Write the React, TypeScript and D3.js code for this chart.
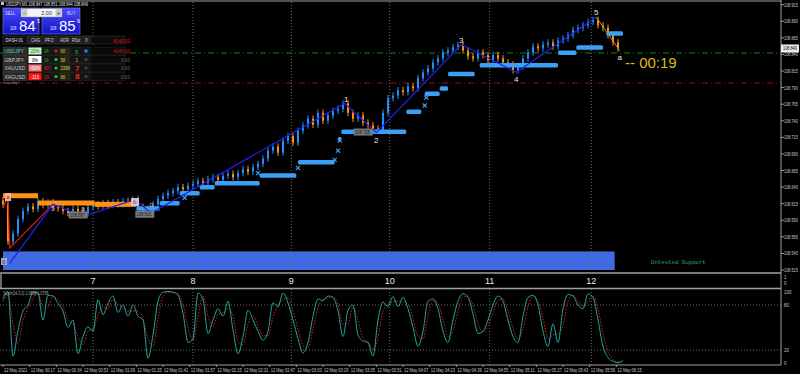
import React, { useEffect, useRef } from "react";
import * as d3 from "d3";

// M1 closes, one candle drawn per 3 bars
const firstOpen = 108.62;
const closes = [
  108.614, 108.558, 108.57, 108.592, 108.604, 108.611, 108.607, 108.619, 108.613, 108.617,
  108.611, 108.608, 108.604, 108.601, 108.607, 108.604, 108.601, 108.61, 108.614, 108.611,
  108.616, 108.613, 108.617, 108.614, 108.619, 108.616, 108.621, 108.61, 108.607, 108.605,
  108.614, 108.622, 108.627, 108.631, 108.634, 108.64, 108.637, 108.642, 108.645, 108.649,
  108.646, 108.652, 108.655, 108.651, 108.657, 108.66, 108.655, 108.661, 108.667, 108.663,
  108.67, 108.675, 108.683, 108.695, 108.701, 108.692, 108.71, 108.717, 108.707, 108.725,
  108.733, 108.743, 108.734, 108.752, 108.74, 108.748, 108.755, 108.758, 108.766, 108.752,
  108.743, 108.748, 108.737, 108.733, 108.728, 108.725, 108.752, 108.774, 108.778, 108.786,
  108.783, 108.792, 108.789, 108.804, 108.813, 108.819, 108.828, 108.834, 108.843, 108.846,
  108.851, 108.854, 108.846, 108.837, 108.834, 108.843, 108.839, 108.831, 108.839, 108.834,
  108.828, 108.825, 108.816, 108.822, 108.834, 108.843, 108.852, 108.849, 108.855, 108.858,
  108.852, 108.861, 108.864, 108.869, 108.877, 108.88, 108.884, 108.889, 108.892, 108.884,
  108.88, 108.869, 108.858, 108.849,
];

// stochastic %K and signal, one value per 3 bars
const stochK = [
  88, 98, 12, 46, 72, 80, 97, 96, 60, 93, 92, 82, 72, 50, 60, 15, 38, 51, 45, 87,
  67, 82, 92, 70, 80, 65, 80, 65, 60, 9, 40, 85, 97, 98, 97, 93, 69, 30, 35, 96,
  88, 42, 60, 75, 65, 85, 47, 15, 38, 73, 60, 45, 33, 45, 83, 78, 96, 83, 60, 35,
  16, 30, 65, 88, 86, 92, 90, 72, 38, 73, 80, 40, 32, 30, 12, 60, 84, 78, 91, 78,
  90, 75, 50, 25, 45, 85, 88, 75, 45, 30, 60, 85, 95, 90, 68, 42, 45, 60, 80, 92,
  85, 60, 38, 30, 65, 90, 93, 80, 45, 25, 55, 30, 75, 94, 92, 80, 75, 95, 90, 60,
  25, 10, 5, 3, 6,
];
const stochD = [
  85, 93, 55, 29, 59, 76, 88, 96, 78, 77, 92, 87, 77, 61, 55, 38, 27, 45, 48, 66,
  77, 75, 87, 81, 75, 72, 72, 72, 62, 35, 25, 62, 91, 97, 97, 95, 81, 50, 33, 65,
  92, 65, 51, 68, 70, 75, 66, 31, 27, 55, 66, 52, 39, 39, 64, 80, 87, 90, 72, 48,
  26, 23, 48, 76, 87, 89, 91, 81, 55, 55, 77, 60, 36, 31, 21, 36, 72, 81, 84, 85,
  84, 82, 62, 38, 35, 65, 86, 82, 60, 38, 45, 72, 90, 92, 79, 55, 44, 52, 70, 86,
  88, 72, 49, 34, 48, 78, 92, 86, 62, 35, 40, 42, 52, 85, 93, 86, 78, 85, 92, 75,
  42, 18, 8, 4, 5,
];

// [startBar, endBar, price]
const supportSteps = [
  [80, 94, 108.608], [94, 106, 108.616], [106, 118, 108.631], [118, 127, 108.64],
  [127, 154, 108.646], [154, 176, 108.658], [177, 199, 108.678], [201, 203, 108.713],
  [203, 242, 108.724], [242, 251, 108.754], [253, 262, 108.781], [262, 267, 108.789],
  [267, 283, 108.811], [286, 333, 108.824], [333, 344, 108.843], [344, 360, 108.851],
  [362, 372, 108.872],
];
const resistSteps = [[0, 21, 108.627], [21, 55, 108.616], [55, 80, 108.614]];
const crossMarks = [
  [109, 108.624], [153, 108.661], [177, 108.669], [199, 108.681], [201, 108.695],
  [202, 108.71], [253, 108.763], [254, 108.775],
];

// zigzag / wave points [bar, price]
const waveMain = [
  [4, 108.525], [30, 108.614], [48, 108.596], [79, 108.621], [89, 108.601],
  [205, 108.766], [224, 108.722], [275, 108.855], [308, 108.813], [356, 108.896],
];
const waveRed = [[0, 108.608], [3, 108.627], [4, 108.548], [30, 108.614]];
const waveTail = [[356, 108.896], [370, 108.846]];
const waveLabels = [
  ["1", 206, 108.772], ["2", 224, 108.71], ["3", 275, 108.862], ["4", 308, 108.802],
  ["5", 356, 108.904], ["a", 370, 108.836],
];
const smallLabels = [["5", 30, 108.607], ["a", 48, 108.607], ["c", 89, 108.613]];
const priceBoxes = [["108.597", 40, 108.598], ["108.601", 80, 108.599], ["108.728", 211, 108.723]];

const priceTicks = [
  108.915, 108.89, 108.865, 108.84, 108.815, 108.79, 108.765, 108.74, 108.715,
  108.69, 108.665, 108.64, 108.615, 108.59, 108.565, 108.54, 108.515,
];
const bidPrice = 108.849;
const stochTicks = [100, 80, 20, 0];
const dayLabels = ["7", "8", "9", "10", "11", "12"];
const dayBars = [54, 114, 173, 232, 292, 353];
const timeLabels = [
  "12 May 2021", "12 May 00:17", "12 May 00:34", "12 May 00:53", "12 May 01:09",
  "12 May 01:25", "12 May 01:41", "12 May 01:57", "12 May 02:15", "12 May 02:31",
  "12 May 02:47", "12 May 03:03", "12 May 03:19", "12 May 03:35", "12 May 03:51",
  "12 May 04:07", "12 May 04:23", "12 May 04:39", "12 May 04:55", "12 May 05:11",
  "12 May 05:27", "12 May 05:43", "12 May 05:59", "12 May 06:15",
];

// dashboard rows
const dashSymbols = ["USDJPY", "GBPJPY", "XAUUSD", "XAGUSD"];
const dashChg = ["23%", "9%", "-62%", "-110"];
const dashPfo = ["24", "14", "897", "29"];
const dashAdr = ["60", "58", "2389", "66"];
const dashRstr = ["5", "1", "7", "8"];
const dashValue = ["4140.00", "0.00", "0.00", "0.00"];

const App = () => {
  const ref = useRef<SVGSVGElement>(null);

  useEffect(() => {
    document.body.style.margin = "0";
    document.body.style.background = "#000";
    const svg = d3.select(ref.current);
    svg.selectAll("*").remove();

    const x = d3.scaleLinear().domain([0, 375]).range([3, 628]);
    const y = d3.scaleLinear().domain([108.515, 108.915]).range([270, 4.7]);
    const ys = d3.scaleLinear().domain([0, 100]).range([365, 290]);
    const font = "'Liberation Sans', Arial, sans-serif";
    const bull = "#1e8fff";
    const bear = "#ff9012";
    const band = "#3a9ff5";

    // normal text
    const txt = (tx: number, ty: number, t: string, size: number, col: string, anchor = "start", weight = "normal") =>
      svg.append("text").attr("x", tx).attr("y", ty).attr("fill", col).attr("text-anchor", anchor)
        .style("font-family", font).style("font-size", `${size}px`).style("font-weight", weight).text(t);
    // tiny condensed text (like the terminal's small font)
    const small = (tx: number, ty: number, t: string, size: number, col: string, sx = 0.72, anchor = "start") =>
      svg.append("text").attr("transform", `translate(${tx},${ty}) scale(${sx},1)`).attr("fill", col)
        .attr("text-anchor", anchor).style("font-family", font).style("font-size", `${size}px`).text(t);

    svg.append("rect").attr("width", 800).attr("height", 374).attr("fill", "#000");

    // untested support zone
    svg.append("rect").attr("x", x(0)).attr("width", x(367) - x(0))
      .attr("y", y(108.543)).attr("height", y(108.515) - y(108.543)).attr("fill", "#4169e1");
    svg.append("text").attr("x", 651).attr("y", 264).attr("fill", "#2ea860")
      .style("font-family", "'Liberation Mono', monospace").style("font-size", "5.7px")
      .text("Untested Support");

    // grid
    dayBars.forEach(b => {
      [[2, 272], [289, 365]].forEach(([a, c]) => {
        svg.append("line").attr("x1", x(b)).attr("x2", x(b)).attr("y1", a).attr("y2", c)
          .attr("stroke", "#6a6a6a").attr("stroke-dasharray", "1,2");
      });
    });
    [80, 20].forEach(v => {
      svg.append("line").attr("x1", 0).attr("x2", 781).attr("y1", ys(v)).attr("y2", ys(v))
        .attr("stroke", "#6a6a6a").attr("stroke-dasharray", "1,2");
    });

    // dash-dot levels
    svg.append("line").attr("x1", 0).attr("x2", 781).attr("y1", 53).attr("y2", 53)
      .attr("stroke", "#0a8a0a").attr("stroke-dasharray", "6,3,1,3");
    svg.append("line").attr("x1", 0).attr("x2", 781).attr("y1", 83).attr("y2", 83)
      .attr("stroke", "#9a0c0c").attr("stroke-dasharray", "6,3,1,3");

    // candles
    const cg = svg.append("g");
    closes.forEach((c, i) => {
      const o = i === 0 ? firstOpen : closes[i - 1];
      const cx = x(i * 3);
      const col = c >= o ? bull : bear;
      cg.append("line").attr("x1", cx).attr("x2", cx)
        .attr("y1", y(Math.max(o, c) + 0.005)).attr("y2", y(Math.min(o, c) - 0.005))
        .attr("stroke", col).attr("stroke-width", 1);
      cg.append("rect").attr("x", cx - 1).attr("width", 2)
        .attr("y", y(Math.max(o, c))).attr("height", Math.max(1, Math.abs(y(o) - y(c))))
        .attr("fill", col);
    });

    // resistance / support bands
    resistSteps.forEach(([s, e, p]) => {
      svg.append("rect").attr("x", x(s)).attr("width", x(e) - x(s))
        .attr("y", y(p) - 2.5).attr("height", 5).attr("fill", bear);
    });
    supportSteps.forEach(([s, e, p]) => {
      svg.append("rect").attr("x", x(s)).attr("width", x(e) - x(s))
        .attr("y", y(p) - 2).attr("height", 4.5).attr("rx", 1.5).attr("fill", band);
    });
    crossMarks.forEach(([b, p]) => {
      const cx = x(b), cy = y(p);
      svg.append("path").attr("d", `M${cx - 2},${cy - 2}L${cx + 2},${cy + 2}M${cx - 2},${cy + 2}L${cx + 2},${cy - 2}`)
        .attr("stroke", band).attr("stroke-width", 1.2);
    });

    // zigzags
    const line = d3.line<number[]>().x(d => x(d[0])).y(d => y(d[1]));
    svg.append("path").attr("d", line(waveRed)).attr("fill", "none").attr("stroke", "#e01818").attr("stroke-width", 1.2);
    svg.append("path").attr("d", line(waveMain)).attr("fill", "none").attr("stroke", "#2020f0").attr("stroke-width", 1.2);
    svg.append("path").attr("d", line(waveTail)).attr("fill", "none").attr("stroke", "#a89430").attr("stroke-width", 1);

    waveLabels.forEach(([t, b, p]) => {
      svg.append("text").attr("x", x(b as number)).attr("y", y(p as number)).attr("text-anchor", "middle")
        .attr("dy", "0.35em").attr("fill", "#e6e6e6").style("font-family", font).style("font-size", "8px").text(t as string);
    });
    smallLabels.forEach(([t, b, p]) => {
      svg.append("text").attr("x", x(b as number)).attr("y", y(p as number)).attr("text-anchor", "middle")
        .attr("dy", "0.35em").attr("fill", "#e0a8c8").style("font-family", font).style("font-size", "7px").text(t as string);
    });
    svg.append("rect").attr("x", 1).attr("y", 258).attr("width", 6).attr("height", 7).attr("fill", "#9aa8d8");
    txt(4, 263.5, "0", 5, "#222", "middle");
    svg.append("rect").attr("x", 5).attr("y", 193).attr("width", 6).attr("height", 8).attr("fill", "#f0b0a0");
    txt(8, 199, "a", 6, "#c02020", "middle");
    svg.append("rect").attr("x", 131).attr("y", 198).attr("width", 8).attr("height", 8).attr("fill", "#cfc0d8");
    txt(135, 204, "b", 6, "#8a3060", "middle");
    priceBoxes.forEach(([t, b, p]) => {
      const bx = x(b as number), by = y(p as number);
      svg.append("rect").attr("x", bx - 1).attr("y", by - 3.5).attr("width", 19).attr("height", 7).attr("fill", "#7a7a7a");
      small(bx, by + 2, t as string, 5, "#1a1a1a", 0.85);
    });

    // countdown
    txt(625, 68, "--  00:19", 15, "#dcbc10");

    // frames
    svg.append("line").attr("x1", 0).attr("x2", 781).attr("y1", 1).attr("y2", 1).attr("stroke", "#505050").attr("stroke-width", 2);
    svg.append("line").attr("x1", 0).attr("x2", 781).attr("y1", 273).attr("y2", 273).attr("stroke", "#a0a0a0").attr("stroke-width", 1.5);
    svg.append("line").attr("x1", 0).attr("x2", 781).attr("y1", 288.5).attr("y2", 288.5).attr("stroke", "#a0a0a0").attr("stroke-width", 1.5);
    svg.append("line").attr("x1", 0).attr("x2", 781).attr("y1", 365).attr("y2", 365).attr("stroke", "#a0a0a0");
    svg.append("line").attr("x1", 781).attr("x2", 781).attr("y1", 0).attr("y2", 365).attr("stroke", "#a0a0a0");
    svg.append("line").attr("x1", 1).attr("x2", 1).attr("y1", 274).attr("y2", 288).attr("stroke", "#cfcfcf");

    dayLabels.forEach((t, i) => txt(x(dayBars[i]), 284, t, 9, "#e8e8e8", "middle"));

    // stochastic
    const sline = d3.line<number>().x((d, i) => x(i * 3)).y(d => ys(d)).curve(d3.curveMonotoneX);
    svg.append("path").attr("d", sline(stochD)).attr("fill", "none").attr("stroke", "#d42020")
      .attr("stroke-width", 1).attr("stroke-dasharray", "1.5,1.5");
    svg.append("path").attr("d", sline(stochK)).attr("fill", "none").attr("stroke", "#1fa8a0").attr("stroke-width", 1);
    small(3, 295, "Stoch(14,3,3) 1.0838 1.0795", 5, "#b0b0b0", 0.72);

    // right axis
    priceTicks.forEach(p => {
      svg.append("line").attr("x1", 781).attr("x2", 784).attr("y1", y(p)).attr("y2", y(p)).attr("stroke", "#a0a0a0");
      if (Math.abs(y(p) - y(bidPrice)) > 5) small(784, y(p) + 2, p.toFixed(3), 5.5, "#c8c8c8", 0.7);
    });
    stochTicks.forEach(v => small(784, Math.min(Math.max(ys(v), 292), 363) + 2, String(v), 5.5, "#c8c8c8", 0.8));
    small(784, 279, "1", 5.5, "#c8c8c8", 0.8);
    small(784, 285, "0", 5.5, "#c8c8c8", 0.8);
    svg.append("rect").attr("x", 781).attr("y", y(bidPrice) - 4).attr("width", 18).attr("height", 8).attr("fill", "#ececec");
    small(783, y(bidPrice) + 2, bidPrice.toFixed(3), 5.5, "#000", 0.7);

    // time axis
    timeLabels.forEach((t, i) => {
      const tx = x(i * 16);
      svg.append("line").attr("x1", tx).attr("x2", tx).attr("y1", 365).attr("y2", 367).attr("stroke", "#a0a0a0");
      small(tx + 1, 371.5, t, 5.6, "#c8c8c8", 0.72);
    });

    // title
    svg.append("rect").attr("x", 1).attr("y", 2).attr("width", 3).attr("height", 3).attr("fill", "#bbb");
    small(6, 6, "USDJPY,M1  108.847 108.851 108.844 108.849", 5, "#e0e0e0", 0.78);

    // trade panel
    const defs = svg.append("defs");
    const grad = defs.append("linearGradient").attr("id", "btn").attr("x1", 0).attr("x2", 0).attr("y1", 0).attr("y2", 1);
    grad.append("stop").attr("offset", "0%").attr("stop-color", "#4a4aff");
    grad.append("stop").attr("offset", "100%").attr("stop-color", "#1212c8");
    [[3, 39], [42, 80]].forEach(([a, b]) => {
      svg.append("rect").attr("x", a).attr("y", 8).attr("width", b - a).attr("height", 26)
        .attr("fill", "url(#btn)").attr("stroke", "#7a7aff").attr("stroke-width", 0.6);
    });
    svg.append("rect").attr("x", 21).attr("y", 8.5).attr("width", 41).attr("height", 8.5).attr("fill", "#f4f4f4").attr("stroke", "#888").attr("stroke-width", 0.5);
    svg.append("rect").attr("x", 21.5).attr("y", 9).attr("width", 6).attr("height", 7.5).attr("fill", "#c8c8c8");
    svg.append("rect").attr("x", 55.5).attr("y", 9).attr("width", 6).attr("height", 7.5).attr("fill", "#c8c8c8");
    txt(24.5, 14.5, "-", 6, "#333", "middle");
    txt(58.5, 14.5, "+", 6, "#333", "middle");
    txt(52, 14.8, "2.00", 5.5, "#333", "end");
    small(5, 15, "SELL", 5, "#d8d8ff", 0.85);
    small(67, 15, "BUY", 5, "#d8d8ff", 0.85);
    small(10, 30, "108", 4.5, "#e8e8ff", 0.85);
    txt(19, 31, "84", 15, "#ffffff");
    txt(37, 23, "5", 5, "#ffffff");
    small(50, 30, "108", 4.5, "#e8e8ff", 0.85);
    txt(59, 31, "85", 15, "#ffffff");
    txt(77, 23, "9", 5, "#ffffff");

    // dashboard
    svg.append("rect").attr("x", 3).attr("y", 36).attr("width", 24).attr("height", 8).attr("fill", "#0c0c0c").attr("stroke", "#444").attr("stroke-width", 0.6);
    svg.append("rect").attr("x", 28).attr("y", 36).attr("width", 62).attr("height", 8).attr("fill", "#202020").attr("stroke", "#444").attr("stroke-width", 0.6);
    svg.append("rect").attr("x", 91).attr("y", 36).attr("width", 34).attr("height", 8).attr("fill", "#0c0c0c").attr("stroke", "#333").attr("stroke-width", 0.6);
    small(5.5, 42, "DASH 01", 5, "#e0e0e0", 0.85);
    [["CHG", 31], ["PFO", 45], ["ADR", 60], ["RStr", 72], ["X", 85]].forEach(([t, tx]) => small(tx as number, 42, t as string, 5, "#d0d0d0", 0.85));
    small(130, 42.5, "4140.00", 5.5, "#e01010", 0.85, "end");
    const chgBg = ["#bfeebf", "#ffffff", "#f07878", "#ff1010"];
    const chgFg = ["#1e6e1e", "#000000", "#ffffff", "#ffffff"];
    const pfoCol = ["#22c022", "#22c022", "#e02020", "#e02020"];
    const dotCol = ["#e02020", "#22d022", "#22d022", "#22d022"];
    const rstrCol = ["#22c022", "#e08020", "#ff2020", "#ff2020"];
    const dot2Col = ["#2080ff", "#3a3a3a", "#3a3a3a", "#3a3a3a"];
    const valCol = ["#e01010", "#6a6a6a", "#6a6a6a", "#6a6a6a"];
    dashSymbols.forEach((s, i) => {
      const ry = 47 + i * 8.5;
      svg.append("rect").attr("x", 3).attr("y", ry).attr("width", 24).attr("height", 8).attr("fill", "#2a2a2a").attr("stroke", "#444").attr("stroke-width", 0.5);
      svg.append("rect").attr("x", 28).attr("y", ry).attr("width", 62).attr("height", 8).attr("fill", "#141414").attr("stroke", "#333").attr("stroke-width", 0.5);
      svg.append("rect").attr("x", 91).attr("y", ry).attr("width", 34).attr("height", 8).attr("fill", "#0a0a0a").attr("stroke", "#2a2a2a").attr("stroke-width", 0.5);
      svg.append("rect").attr("x", 28.5).attr("y", ry + 0.5).attr("width", 13).attr("height", 7).attr("fill", chgBg[i]);
      small(4.5, ry + 6, s, 5.5, i === 0 ? "#5fd0d0" : "#cccccc", 0.9);
      small(35, ry + 6, dashChg[i], 5, chgFg[i], 0.85, "middle");
      small(44, ry + 6, dashPfo[i], 5, pfoCol[i], 0.85);
      svg.append("circle").attr("cx", 56).attr("cy", ry + 4).attr("r", 1.6).attr("fill", dotCol[i]);
      svg.append("rect").attr("x", 59.5).attr("y", ry + 0.5).attr("width", 11).attr("height", 7).attr("fill", "#262614");
      small(60.5, ry + 6, dashAdr[i], 5, "#d8c830", 0.85);
      txt(75, ry + 6.5, dashRstr[i], i >= 2 ? 8 : 6, rstrCol[i], "start", i >= 2 ? "bold" : "normal");
      svg.append("circle").attr("cx", 86).attr("cy", ry + 4).attr("r", 1.8).attr("fill", dot2Col[i]);
      small(130, ry + 6, dashValue[i], 5.5, valCol[i], 0.85, "end");
    });
    small(4, 83.5, "Liquidity \u2261", 4, "#9a9a9a", 0.9);

    return () => { svg.selectAll("*").remove(); };
  }, []);

  return <svg ref={ref} width={800} height={374} style={{ position: "fixed", left: 0, top: 0, display: "block" }} />;
};

export default App;
